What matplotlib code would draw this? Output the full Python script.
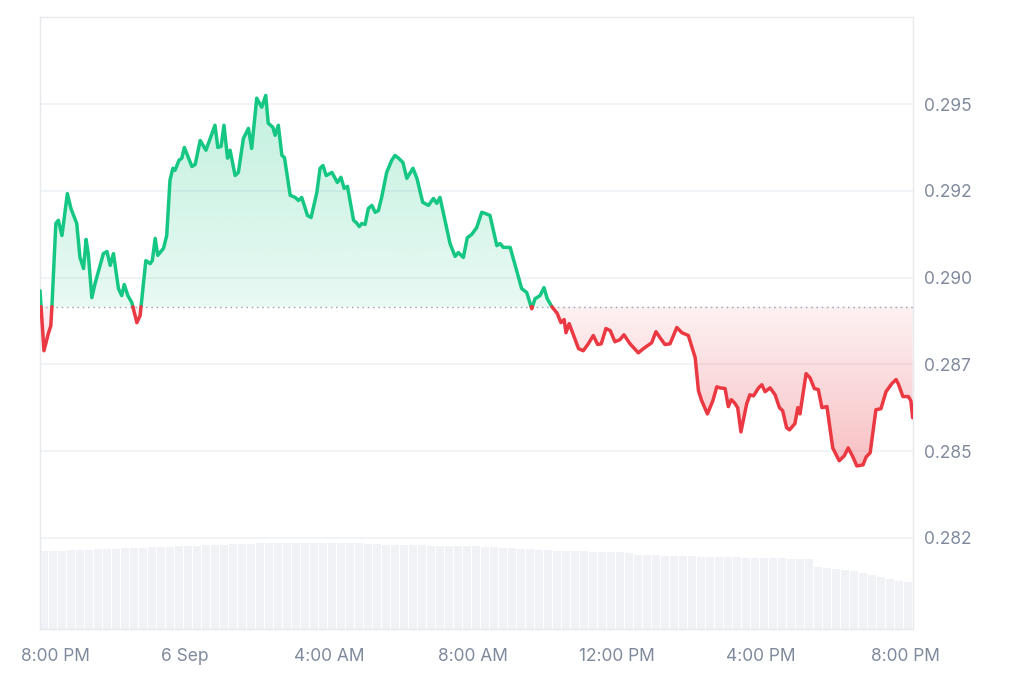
import numpy as np
import matplotlib.pyplot as plt
from matplotlib.transforms import ScaledTranslation

# hours after 8:00 PM (5 Sep) and price in USD
hours = [-0.03, 0.08, 0.20, 0.27, 0.30, 0.41, 0.48, 0.58, 0.73, 0.83, 0.99, 1.08, 1.18, 1.25, 1.31,
         1.41, 1.50, 1.73, 1.83, 1.92, 2.01, 2.15, 2.24, 2.31, 2.41, 2.52, 2.66, 2.75, 2.91, 3.03,
         3.09, 3.17, 3.24, 3.40, 3.49, 3.58, 3.66, 3.72, 3.83, 3.91, 3.98, 4.19, 4.28, 4.42, 4.58,
         4.83, 4.91, 5.00, 5.08, 5.18, 5.25, 5.39, 5.48, 5.62, 5.76, 5.85, 5.99, 6.13, 6.24, 6.31,
         6.44, 6.50, 6.59, 6.69, 6.76, 6.92, 7.06, 7.15, 7.24, 7.40, 7.50, 7.66, 7.75, 7.83, 7.92,
         8.08, 8.23, 8.33, 8.42, 8.51, 8.68, 8.75, 8.84, 8.91, 9.00, 9.09, 9.19, 9.28, 9.37, 9.46,
         9.60, 9.74, 9.83, 9.93, 10.05, 10.16, 10.33, 10.44, 10.60, 10.76, 10.90, 10.99, 11.08, 11.22,
         11.36, 11.50, 11.59, 11.73, 11.84, 11.96, 12.10, 12.24, 12.33, 12.47, 12.66, 12.75, 12.84,
         13.03, 13.21, 13.35, 13.49, 13.63, 13.72, 13.86, 13.97, 14.06, 14.19, 14.34, 14.44, 14.53,
         14.58, 14.67, 14.93, 15.06, 15.20, 15.34, 15.46, 15.56, 15.69, 15.81, 15.94, 16.08, 16.19,
         16.36, 16.59, 16.73, 16.96, 17.08, 17.19, 17.33, 17.47, 17.66, 17.80, 17.98, 18.17, 18.26,
         18.35, 18.51, 18.66, 18.77, 18.86, 19.00, 19.09, 19.17, 19.26, 19.35, 19.44, 19.60, 19.69,
         19.79, 19.93, 20.02, 20.11, 20.25, 20.39, 20.51, 20.60, 20.71, 20.79, 20.94, 21.02, 21.08,
         21.25, 21.36, 21.48, 21.59, 21.69, 21.83, 21.99, 22.17, 22.31, 22.42, 22.55, 22.66, 22.83,
         22.92, 23.03, 23.19, 23.33, 23.47, 23.63, 23.75, 23.81, 23.94, 24.09, 24.16, 24.21]

price = [0.28962, 0.28789, 0.28838, 0.28861, 0.28914, 0.29156, 0.29165, 0.29121, 0.29242, 0.29199,
         0.29156, 0.29058, 0.29026, 0.29110, 0.29069, 0.28942, 0.28983, 0.29069, 0.29075, 0.29035,
         0.29069, 0.28968, 0.28948, 0.28980, 0.28948, 0.28928, 0.28870, 0.28890, 0.29049, 0.29040,
         0.29049, 0.29113, 0.29064, 0.29084, 0.29121, 0.29280, 0.29315, 0.29309, 0.29338, 0.29344,
         0.29375, 0.29320, 0.29326, 0.29395, 0.29367, 0.29439, 0.29375, 0.29378, 0.29439, 0.29344,
         0.29367, 0.29294, 0.29303, 0.29401, 0.29430, 0.29372, 0.29517, 0.29491, 0.29525, 0.29445,
         0.29433, 0.29410, 0.29439, 0.29352, 0.29346, 0.29237, 0.29231, 0.29222, 0.29231, 0.29179,
         0.29173, 0.29245, 0.29315, 0.29323, 0.29294, 0.29303, 0.29274, 0.29289, 0.29257, 0.29263,
         0.29165, 0.29159, 0.29147, 0.29156, 0.29153, 0.29199, 0.29208, 0.29188, 0.29193, 0.29231,
         0.29303, 0.29338, 0.29352, 0.29344, 0.29332, 0.29286, 0.29315, 0.29286, 0.29217, 0.29208,
         0.29228, 0.29214, 0.29231, 0.29165, 0.29098, 0.29061, 0.29072, 0.29058, 0.29115, 0.29124,
         0.29144, 0.29188, 0.29185, 0.29179, 0.29092, 0.29098, 0.29087, 0.29087, 0.29020, 0.28968,
         0.28957, 0.28910, 0.28939, 0.28948, 0.28971, 0.28939, 0.28916, 0.28896, 0.28870, 0.28879,
         0.28841, 0.28867, 0.28795, 0.28789, 0.28809, 0.28833, 0.28807, 0.28809, 0.28853, 0.28847,
         0.28815, 0.28821, 0.28835, 0.28809, 0.28783, 0.28795, 0.28812, 0.28844, 0.28827, 0.28807,
         0.28809, 0.28856, 0.28841, 0.28833, 0.28769, 0.28674, 0.28645, 0.28607, 0.28645, 0.28685,
         0.28682, 0.28680, 0.28628, 0.28648, 0.28639, 0.28625, 0.28555, 0.28636, 0.28662, 0.28659,
         0.28682, 0.28691, 0.28671, 0.28682, 0.28662, 0.28625, 0.28616, 0.28567, 0.28561, 0.28579,
         0.28625, 0.28607, 0.28723, 0.28711, 0.28680, 0.28677, 0.28625, 0.28628, 0.28509, 0.28472,
         0.28486, 0.28509, 0.28483, 0.28457, 0.28460, 0.28483, 0.28495, 0.28619, 0.28622, 0.28671,
         0.28694, 0.28706, 0.28694, 0.28657, 0.28657, 0.28645, 0.28596]

base_price = 0.28916

# 15-minute volume bars (arbitrary units)
vol_start = -0.03
volume = [59.9, 60.0, 60.2, 60.4, 60.6, 60.9,
          61.3, 61.5, 61.7, 61.9, 62.2, 62.4, 62.6,
          62.9, 63.1, 63.4, 63.6, 63.9, 64.2, 64.5,
          64.8, 65.1, 65.3, 65.6, 65.8, 66.0,
          66.0, 66.1, 66.1, 66.2, 66.2, 66.2, 66.1, 66.1, 66.0, 66.0,
          65.6, 65.2, 64.8, 64.5, 64.4,
          64.3, 64.2, 64.1, 64.0, 63.9, 63.8, 63.7, 63.6,
          63.2, 62.8, 62.4, 62.0, 61.6, 61.2, 60.8, 60.4,
          60.2, 60.0, 59.8, 59.6, 59.4, 59.2, 59.0, 58.8, 58.7,
          57.0, 56.8, 56.6, 56.4, 56.2, 56.0, 55.8, 55.6, 55.4, 55.3,
          55.2, 55.0, 54.8, 54.7, 54.5, 54.4, 54.2, 54.1, 54.0, 53.8,
          47.6, 46.9, 46.1, 45.4, 44.6, 43.2, 41.8, 40.2, 38.5, 36.8, 36.2]

tick_hours = [0, 4, 8, 12, 16, 20, 24]
tick_labels = ['8:00 PM', '6 Sep', '4:00 AM', '8:00 AM', '12:00 PM', '4:00 PM', '8:00 PM']
ytick_vals = [0.2825, 0.2850, 0.2875, 0.2900, 0.2925, 0.2950]
ytick_labels = ['0.282', '0.285', '0.287', '0.290', '0.292', '0.295']

GREEN = '#16c784'
RED = '#ea3943'
GRID = '#eff2f5'
LABEL = '#808a9d'

t = np.array(hours)
p = np.array(price)

# add the points where the line crosses the reference price so colours split cleanly
tt, pp = [t[0]], [p[0]]
for i in range(1, len(t)):
    a, b = p[i - 1] - base_price, p[i] - base_price
    if a * b < 0:
        f = a / (a - b)
        tt.append(t[i - 1] + f * (t[i] - t[i - 1]))
        pp.append(base_price)
    tt.append(t[i])
    pp.append(p[i])
tt = np.array(tt)
pp = np.array(pp)

fig = plt.figure(figsize=(10.24, 6.83), dpi=100)
rect = [40 / 1024, 54 / 683, 873 / 1024, 612 / 683]

# volume in its own axes underneath
axv = fig.add_axes(rect)
vt = vol_start + 0.25 * np.arange(len(volume))
axv.bar(vt, volume, width=0.225, align='edge', color='#f0f2f5', linewidth=0)
axv.set_xlim(-0.03, 24.22)
axv.set_ylim(0, 470)
axv.axis('off')

ax = fig.add_axes(rect)
ax.set_facecolor('none')
xmin, xmax = -0.03, 24.22
ymin, ymax = 0.27987, 0.29751
ax.set_xlim(xmin, xmax)
ax.set_ylim(ymin, ymax)

for v in ytick_vals:
    ax.axhline(v, color=GRID, lw=1.2, zorder=0)

# gradient fills clipped to the area between line and reference price
def gradient_fill(upper, lower, color, a_base, a_far, y0, y1):
    poly = ax.fill_between(tt, upper, lower, color='none', lw=0)
    n = 256
    rgba = np.zeros((n, 1, 4))
    c = plt.matplotlib.colors.to_rgb(color)
    rgba[:, 0, :3] = c
    rgba[:, 0, 3] = np.linspace(a_base, a_far, n)
    im = ax.imshow(rgba, extent=[xmin, xmax, y0, y1], origin='lower',
                   aspect='auto', zorder=1, interpolation='bilinear')
    im.set_clip_path(poly.get_paths()[0], transform=ax.transData)
    ax.set_xlim(xmin, xmax)
    ax.set_ylim(ymin, ymax)

gradient_fill(np.maximum(pp, base_price), base_price, GREEN, 0.10, 0.26, base_price, pp.max())
gradient_fill(base_price, np.minimum(pp, base_price), RED, 0.32, 0.07, pp.min(), base_price)

ax.axhline(base_price, color='#a1a7bb', lw=1.0, ls=(0, (1.2, 2.6)), zorder=2)

up = np.ma.masked_where(pp < base_price, pp)
down = np.ma.masked_where(pp > base_price, pp)
ax.plot(tt, up, color=GREEN, lw=2.5, solid_joinstyle='round', solid_capstyle='round', zorder=3)
ax.plot(tt, down, color=RED, lw=2.5, solid_joinstyle='round', solid_capstyle='round', zorder=3)

for s in ax.spines.values():
    s.set_color('#e6e9ee')
    s.set_linewidth(1.0)

ax.set_xticks(tick_hours)
ax.set_xticklabels(tick_labels)
ax.set_yticks(ytick_vals)
ax.set_yticklabels(ytick_labels)
ax.yaxis.tick_right()
ax.tick_params(axis='both', length=0, colors=LABEL, labelsize=12.5)
ax.tick_params(axis='x', pad=14)
ax.tick_params(axis='y', pad=8)
for lab in ax.get_xticklabels() + ax.get_yticklabels():
    lab.set_family(['Inter', 'DejaVu Sans'])

# first time label is pushed right so it stays inside the picture
first = ax.get_xticklabels()[0]
first.set_transform(first.get_transform() + ScaledTranslation(0.14, 0, fig.dpi_scale_trans))

fig.savefig('out.png', dpi=100, facecolor='white')
